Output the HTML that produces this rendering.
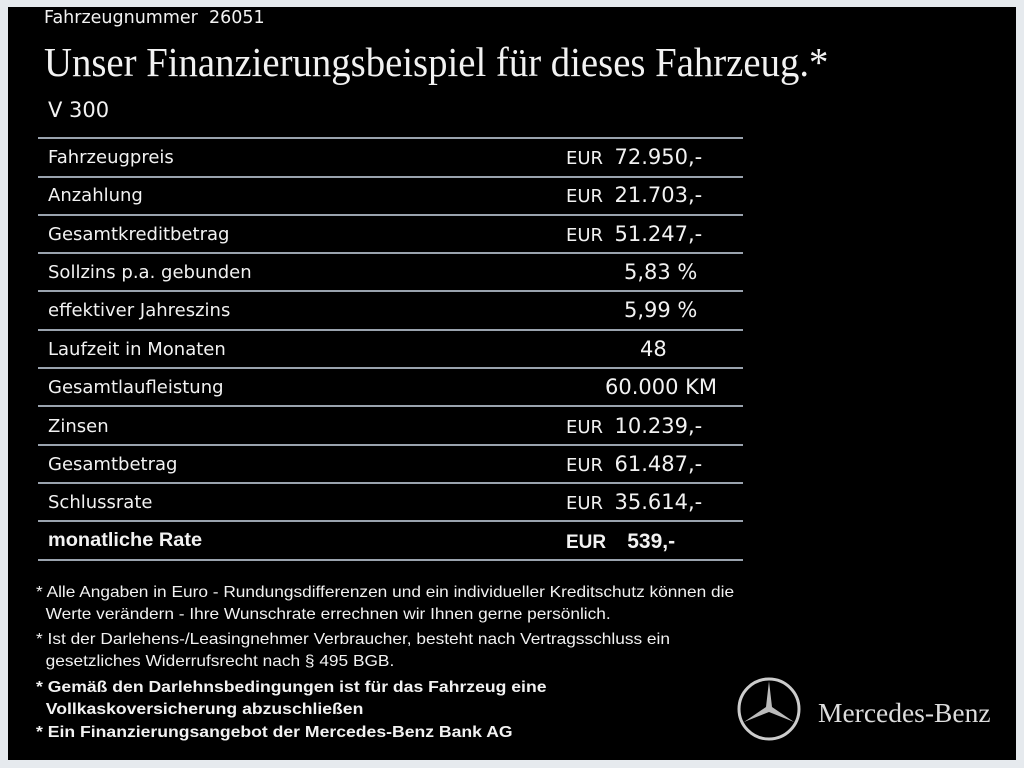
<!DOCTYPE html>
<html><head><meta charset="utf-8"><style>
body{margin:0;width:1024px;height:768px;background:#e6eaee;position:relative;overflow:hidden;font-family:"DejaVu Sans","Liberation Sans",sans-serif;}
#p{position:absolute;left:8px;top:7px;width:1008px;height:753px;background:#000;}
.t{position:absolute;color:#f2f2f2;white-space:nowrap;}
.l{position:absolute;left:38px;width:705px;height:2px;background:#9aa3ae;}
.r{font-size:18px;}
.v{font-size:18px;}
.v b{font-weight:normal;font-size:21px;}
.f{font-family:"Liberation Sans",sans-serif;font-size:16px;line-height:22px;transform:scaleX(1.08);transform-origin:left;}
.fb{transform:scaleX(1.1);}
</style></head><body>
<div id="p"></div>
<div class="t" style="left:44px;top:8px;font-size:17.5px">Fahrzeugnummer&nbsp; 26051</div>
<div class="t" style="left:44px;top:38px;font-family:'Liberation Serif',serif;font-size:41px;transform:scaleX(0.945);transform-origin:left">Unser Finanzierungsbeispiel für dieses Fahrzeug.*</div>
<div class="t" style="left:48px;top:98px;font-size:21px">V 300</div>
<div class="l" style="top:137px"></div><div class="l" style="top:176px"></div><div class="l" style="top:214px"></div><div class="l" style="top:252px"></div><div class="l" style="top:290px"></div><div class="l" style="top:329px"></div><div class="l" style="top:367px"></div><div class="l" style="top:405px"></div><div class="l" style="top:444px"></div><div class="l" style="top:482px"></div><div class="l" style="top:520px"></div><div class="l" style="top:559px"></div>

<div class="t r" style="left:48px;top:147px">Fahrzeugpreis</div>
<div class="t v" style="left:566px;top:145px">EUR&nbsp; <b>72.950,-</b></div>
<div class="t r" style="left:48px;top:185px">Anzahlung</div>
<div class="t v" style="left:566px;top:183px">EUR&nbsp; <b>21.703,-</b></div>
<div class="t r" style="left:48px;top:224px">Gesamtkreditbetrag</div>
<div class="t v" style="left:566px;top:222px">EUR&nbsp; <b>51.247,-</b></div>
<div class="t r" style="left:48px;top:262px">Sollzins p.a. gebunden</div>
<div class="t v" style="left:624px;top:260px"><b>5,83 %</b></div>
<div class="t r" style="left:48px;top:300px">effektiver Jahreszins</div>
<div class="t v" style="left:624px;top:298px"><b>5,99 %</b></div>
<div class="t r" style="left:48px;top:339px">Laufzeit in Monaten</div>
<div class="t v" style="left:640px;top:337px"><b>48</b></div>
<div class="t r" style="left:48px;top:377px">Gesamtlaufleistung</div>
<div class="t v" style="left:605px;top:375px"><b>60.000 KM</b></div>
<div class="t r" style="left:48px;top:416px">Zinsen</div>
<div class="t v" style="left:566px;top:414px">EUR&nbsp; <b>10.239,-</b></div>
<div class="t r" style="left:48px;top:454px">Gesamtbetrag</div>
<div class="t v" style="left:566px;top:452px">EUR&nbsp; <b>61.487,-</b></div>
<div class="t r" style="left:48px;top:492px">Schlussrate</div>
<div class="t v" style="left:566px;top:490px">EUR&nbsp; <b>35.614,-</b></div>
<div class="t" style="left:48px;top:530px;font-weight:bold;font-size:19px;font-family:'Liberation Sans',sans-serif;transform:scaleX(1.05);transform-origin:left">monatliche Rate</div>
<div class="t" style="left:566px;top:530px;font-weight:bold;font-size:19px;font-family:'Liberation Sans',sans-serif">EUR&nbsp;&nbsp;&nbsp; <span style="font-size:21px">539,-</span></div>

<div class="t f" style="left:36px;top:582px">* Alle Angaben in Euro - Rundungsdifferenzen und ein individueller Kreditschutz können die<br>&nbsp; Werte verändern - Ihre Wunschrate errechnen wir Ihnen gerne persönlich.</div>
<div class="t f" style="left:36px;top:629px">* Ist der Darlehens-/Leasingnehmer Verbraucher, besteht nach Vertragsschluss ein<br>&nbsp; gesetzliches Widerrufsrecht nach § 495 BGB.</div>
<div class="t f fb" style="left:36px;top:677px;font-weight:bold">* Gemäß den Darlehnsbedingungen ist für das Fahrzeug eine<br>&nbsp; Vollkaskoversicherung abzuschließen</div>
<div class="t f fb" style="left:36px;top:722px;font-weight:bold">* Ein Finanzierungsangebot der Mercedes-Benz Bank AG</div>

<svg style="position:absolute;left:736px;top:676px" width="66" height="66" viewBox="0 0 66 66">
<circle cx="33" cy="33" r="30" fill="none" stroke="#ccc" stroke-width="3"/>
<polygon points="33,5 36,31 58,46 33,36 8,46 30,31" fill="#bbb"/>
</svg>
<div class="t" style="left:818px;top:697px;font-family:'Liberation Serif',serif;font-size:27.5px;color:#ddd">Mercedes-Benz</div>
</body></html>
